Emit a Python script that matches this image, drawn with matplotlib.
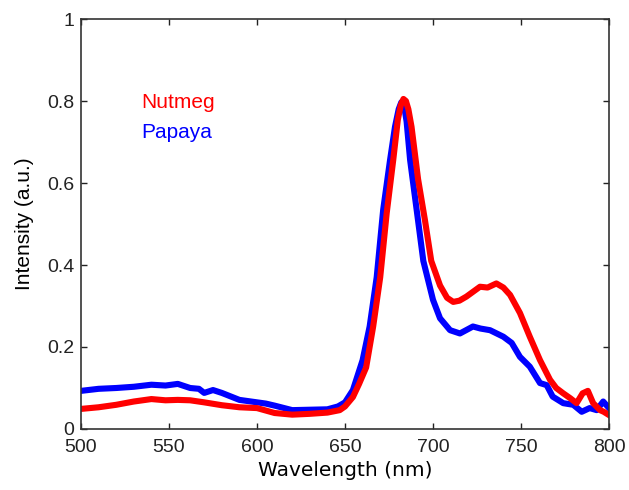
import matplotlib.pyplot as plt

plt.rcParams['font.family'] = ['Liberation Sans', 'DejaVu Sans']

# Nutmeg (red)
nut_wl = [500, 510, 520, 530, 540, 548, 555, 562, 570, 580, 590, 600, 605, 610, 620,
          630, 640, 647, 650, 654.5, 658, 662, 666, 670, 673.7, 677.4, 680, 681.7, 683.2,
          684.6, 686, 687.8, 691.5, 695.4, 699, 704, 708, 711.5, 715, 719, 726.7, 731,
          736, 740, 743.8, 749.4, 755, 760.8, 766.5, 770, 774, 778, 781.6, 785, 788,
          791, 794.9, 797, 800]
nut_int = [0.049, 0.053, 0.059, 0.067, 0.073, 0.070, 0.071, 0.070, 0.065, 0.058, 0.053,
           0.051, 0.045, 0.039, 0.035, 0.037, 0.040, 0.046, 0.055, 0.078, 0.11, 0.15,
           0.25, 0.37, 0.527, 0.656, 0.754, 0.79, 0.805, 0.80, 0.78, 0.737, 0.61, 0.51,
           0.41, 0.35, 0.32, 0.31, 0.313, 0.323, 0.347, 0.345, 0.355, 0.345, 0.327,
           0.283, 0.225, 0.168, 0.12, 0.10, 0.087, 0.075, 0.063, 0.087, 0.093, 0.063,
           0.046, 0.042, 0.034]

# Papaya (blue)
pap_wl = [500, 510, 520, 530, 540, 548, 555, 562, 567, 570, 575, 580, 590, 600, 605,
          610, 620, 630, 640, 646, 650, 654.5, 660, 664, 668, 671.7, 675.6, 678.4,
          680.5, 682, 683.5, 685, 687, 690.7, 694.5, 700, 704, 709.7, 715.3, 722.7,
          727, 732.4, 740, 744.7, 749.4, 755, 760.8, 764.6, 768, 774, 779.7, 784.5,
          789, 793, 796.7, 800]
pap_int = [0.093, 0.098, 0.10, 0.103, 0.108, 0.106, 0.110, 0.100, 0.098, 0.088, 0.095,
           0.088, 0.071, 0.065, 0.062, 0.057, 0.046, 0.047, 0.048, 0.055, 0.065, 0.095,
           0.168, 0.25, 0.37, 0.535, 0.656, 0.737, 0.78, 0.797, 0.79, 0.75, 0.656,
           0.535, 0.41, 0.315, 0.27, 0.241, 0.233, 0.25, 0.245, 0.241, 0.225, 0.21,
           0.176, 0.152, 0.112, 0.107, 0.079, 0.063, 0.059, 0.042, 0.051, 0.046,
           0.067, 0.051]

fig = plt.figure(figsize=(6.29, 4.9), dpi=100)
ax = fig.add_axes([0.1288, 0.1245, 0.8394, 0.8367])

ax.plot(pap_wl, pap_int, color='#0000ff', lw=4.4, solid_joinstyle='round')
ax.plot(nut_wl, nut_int, color='#ff0000', lw=4.4, solid_joinstyle='round')

ax.set_xlim(500, 800)
ax.set_ylim(0, 1)
ax.set_xticks([500, 550, 600, 650, 700, 750, 800])
ax.set_yticks([0, 0.2, 0.4, 0.6, 0.8, 1])
ax.set_yticklabels(['0', '0.2', '0.4', '0.6', '0.8', '1'])
ax.tick_params(direction='in', length=4, width=1, top=True, right=True,
               labelsize=14, colors='#222222')
ax.tick_params(axis='x', pad=7)
ax.tick_params(axis='y', pad=5)
for s in ax.spines.values():
    s.set_linewidth(1.2)
    s.set_color('#333333')

ax.set_xlabel('Wavelength (nm)', fontsize=14.5, family='DejaVu Sans', labelpad=4)
ax.set_ylabel('Intensity (a.u.)', fontsize=15, labelpad=9)

ax.text(534, 0.783, 'Nutmeg', color='#ff0000', fontsize=15, va='baseline')
ax.text(534, 0.71, 'Papaya', color='#0000ff', fontsize=15, va='baseline')

fig.savefig('out.png', dpi=100)
